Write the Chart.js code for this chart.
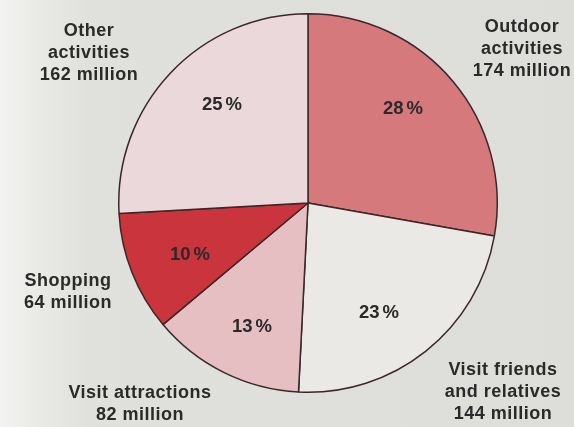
<!DOCTYPE html>
<html>
<head>
<meta charset="utf-8">
<script src="https://cdn.jsdelivr.net/npm/chart.js@4"></script>
<style>
  html, body { margin: 0; padding: 0; }
  body {
    width: 574px; height: 427px; overflow: hidden;
    background: linear-gradient(to right, #f3f3f1 0px, #eaeae7 35px, #e0e0dc 90px, #dddeda 100%);
  }
  canvas { display: block; }
</style>
</head>
<body>
<canvas id="activityChart" width="574" height="427"></canvas>
<script>
// Trips by main activity, millions
const activities = ['Outdoor activities', 'Visit friends and relatives', 'Visit attractions', 'Shopping', 'Other activities'];
const trips = [174, 144, 82, 64, 162];
const shares = [28, 23, 13, 10, 25];
const sliceColors = ['#d6797d', '#ebe9e6', '#e6bfc2', '#c9343d', '#ead8da'];

// Outside caption lines for each slice, and where they sit
const captions = [
  { lines: ['Outdoor', 'activities', '174 million'], x: 522, y: 27 },
  { lines: ['Visit friends', 'and relatives', '144 million'], x: 503, y: 370 },
  { lines: ['Visit attractions', '82 million'], x: 140, y: 393 },
  { lines: ['Shopping', '64 million'], x: 68, y: 281 },
  { lines: ['Other', 'activities', '162 million'], x: 89, y: 31 }
];
const sharePos = [[403, 109], [379, 313], [252, 327], [190, 255], [222, 105]];

const labelPlugin = {
  id: 'sliceLabels',
  afterDraw(chart) {
    const c = chart.ctx;
    c.save();
    c.fillStyle = '#2a2a2a';
    c.textAlign = 'center';
    c.textBaseline = 'middle';
    c.font = 'bold 18px "Liberation Sans", Arial, sans-serif';
    c.letterSpacing = '0.5px';
    captions.forEach(cap => {
      cap.lines.forEach((line, i) => c.fillText(line, cap.x, cap.y + i * 22));
    });
    // percentages: digits tight, small gap before the % sign
    c.font = 'bold 18.5px "Liberation Sans", Arial, sans-serif';
    c.letterSpacing = '0px';
    c.textAlign = 'left';
    const gap = 3;
    shares.forEach((s, i) => {
      const num = String(s);
      const wNum = c.measureText(num).width;
      const wPct = c.measureText('%').width;
      const x0 = sharePos[i][0] - (wNum + gap + wPct) / 2;
      c.fillText(num, x0, sharePos[i][1]);
      c.fillText('%', x0 + wNum + gap, sharePos[i][1]);
    });
    c.restore();
  }
};

new Chart(document.getElementById('activityChart'), {
  type: 'pie',
  data: {
    labels: activities,
    datasets: [{
      data: trips,
      backgroundColor: sliceColors,
      borderColor: '#3b2728',
      borderWidth: 1.5,
      hoverOffset: 0
    }]
  },
  options: {
    responsive: false,
    animation: false,
    layout: { padding: { top: 13, bottom: 34, left: 42, right: 0 } },
    plugins: {
      legend: { display: false },
      tooltip: { enabled: false }
    }
  },
  plugins: [labelPlugin]
});
</script>
</body>
</html>
